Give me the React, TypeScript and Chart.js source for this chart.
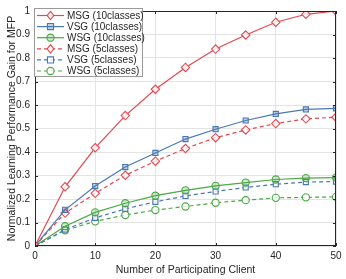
import React, { useEffect, useRef } from "react";
import { Chart, registerables } from "chart.js";

Chart.register(...registerables);

const clients = [0, 5, 10, 15, 20, 25, 30, 35, 40, 45, 50];
const msg10 = [0, 0.252, 0.418, 0.555, 0.667, 0.76, 0.838, 0.898, 0.952, 0.986, 1.0];
const vsg10 = [0, 0.154, 0.255, 0.336, 0.396, 0.455, 0.497, 0.534, 0.562, 0.581, 0.586];
const wsg10 = [0, 0.084, 0.143, 0.182, 0.214, 0.237, 0.256, 0.27, 0.283, 0.289, 0.291];
const msg5 = [0, 0.14, 0.224, 0.301, 0.361, 0.415, 0.461, 0.494, 0.521, 0.541, 0.548];
const vsg5 = [0, 0.07, 0.12, 0.158, 0.188, 0.213, 0.232, 0.249, 0.263, 0.272, 0.274];
const wsg5 = [0, 0.067, 0.105, 0.132, 0.153, 0.168, 0.184, 0.195, 0.205, 0.207, 0.209];

const seriesLabels = [
  "MSG (10classes)",
  "VSG (10classes)",
  "WSG (10classes)",
  "MSG (5classes)",
  "VSG (5classes)",
  "WSG (5classes)",
];
const xTitle = "Number of Participating Client";
const yTitle = "Normalized Learning Performance Gain for MFP";

const RED = "#e5474d";
const BLUE = "#4a78b3";
const GREEN = "#4ca846";
const TEXT = "#262626";
const FONT = "Liberation Sans, Arial, sans-serif";

function drawMarker(ctx: CanvasRenderingContext2D, style: string, x: number, y: number, r: number, stroke: string, fill: string) {
  ctx.save();
  ctx.beginPath();
  if (style === "rectRot") {
    ctx.moveTo(x, y - r);
    ctx.lineTo(x + r * 0.8, y);
    ctx.lineTo(x, y + r);
    ctx.lineTo(x - r * 0.8, y);
    ctx.closePath();
  } else if (style === "rect") {
    const s = r * 0.85;
    ctx.rect(x - s, y - s, 2 * s, 2 * s);
  } else {
    ctx.arc(x, y, r, 0, Math.PI * 2);
  }
  ctx.fillStyle = fill;
  ctx.fill();
  ctx.setLineDash([]);
  ctx.lineWidth = 1.1;
  ctx.strokeStyle = stroke;
  ctx.stroke();
  ctx.restore();
}

const boxPlugin = {
  id: "boxPlugin",
  afterDraw(chart: any) {
    const { ctx, chartArea } = chart;
    const { left, right, top, bottom } = chartArea;
    const xs = chart.scales.x;
    const ys = chart.scales.y;
    ctx.save();
    ctx.strokeStyle = TEXT;
    ctx.lineWidth = 1;
    ctx.setLineDash([]);
    ctx.strokeRect(left + 0.5, top + 0.5, right - left - 1, bottom - top - 1);
    ctx.beginPath();
    for (let v = 0; v <= 50; v += 10) {
      const px = Math.round(xs.getPixelForValue(v)) + 0.5;
      ctx.moveTo(px, bottom);
      ctx.lineTo(px, bottom - 3);
      ctx.moveTo(px, top);
      ctx.lineTo(px, top + 3);
    }
    for (let i = 0; i <= 10; i++) {
      const py = Math.round(ys.getPixelForValue(i / 10)) + 0.5;
      ctx.moveTo(left, py);
      ctx.lineTo(left + 3, py);
      ctx.moveTo(right, py);
      ctx.lineTo(right - 3, py);
    }
    ctx.stroke();

    // legend
    const bx = 34.5, by = 8.5, bw = 108, bh = 68;
    ctx.fillStyle = "#ffffff";
    ctx.fillRect(bx, by, bw, bh);
    ctx.strokeStyle = "#9a9a9a";
    ctx.strokeRect(bx, by, bw, bh);
    chart.data.datasets.forEach((ds: any, i: number) => {
      const y = 15.5 + i * 11.1;
      ctx.beginPath();
      ctx.setLineDash(ds.borderDash || []);
      ctx.strokeStyle = ds.borderColor;
      ctx.lineWidth = ds.borderWidth;
      ctx.moveTo(37, y);
      ctx.lineTo(64, y);
      ctx.stroke();
      drawMarker(ctx, ds.pointStyle, 50.5, y, ds.pointRadius, ds.borderColor, ds.pointBackgroundColor);
      ctx.fillStyle = TEXT;
      ctx.font = "10px " + FONT;
      ctx.textBaseline = "middle";
      ctx.textAlign = "left";
      ctx.fillText(ds.label, 67, y + 0.5);
    });
    ctx.restore();
  },
};

function mk(label: string, vals: number[], color: string, style: string, dashed: boolean, fill: string) {
  return {
    label,
    data: clients.map((c, i) => ({ x: c, y: vals[i] })),
    borderColor: color,
    backgroundColor: color,
    borderWidth: 1.2,
    borderDash: dashed ? [4, 3] : [],
    pointStyle: style,
    pointRadius: style === "rectRot" ? 4.2 : 3.6,
    pointBorderWidth: 1.1,
    pointBorderColor: color,
    pointBackgroundColor: fill,
    tension: 0,
  };
}

export default function App() {
  const ref = useRef<HTMLCanvasElement>(null);
  useEffect(() => {
    document.body.style.margin = "0";
    const chart = new Chart(ref.current!, {
      type: "line",
      data: {
        datasets: [
          mk(seriesLabels[0], msg10, RED, "rectRot", false, "rgba(255,255,255,0.8)"),
          mk(seriesLabels[1], vsg10, BLUE, "rect", false, "rgba(74,120,179,0.35)"),
          mk(seriesLabels[2], wsg10, GREEN, "circle", false, "rgba(76,168,70,0.25)"),
          mk(seriesLabels[3], msg5, RED, "rectRot", true, "rgba(255,255,255,0.8)"),
          mk(seriesLabels[4], vsg5, BLUE, "rect", true, "rgba(255,255,255,0.8)"),
          mk(seriesLabels[5], wsg5, GREEN, "circle", true, "rgba(255,255,255,0.8)"),
        ] as any,
      },
      options: {
        animation: false,
        responsive: false,
        maintainAspectRatio: false,
        layout: { padding: { top: 8, right: 10, left: 0, bottom: 0 } },
        plugins: { legend: { display: false }, tooltip: { enabled: false } },
        scales: {
          x: {
            type: "linear",
            min: 0,
            max: 50,
            ticks: { stepSize: 10, color: TEXT, font: { family: FONT, size: 10 }, padding: 4, maxRotation: 0 },
            grid: { color: "#e4e4e4", drawTicks: false },
            border: { display: false },
            title: { display: true, text: xTitle, color: TEXT, font: { family: FONT, size: 10.5 }, padding: { top: 0, bottom: 3 } },
            afterFit: (s: any) => { s.height = 33; },
          },
          y: {
            min: 0,
            max: 1,
            ticks: {
              stepSize: 0.1,
              color: TEXT,
              font: { family: FONT, size: 10 },
              padding: 5,
              callback: (v: any) => String(Math.round(Number(v) * 10) / 10),
            },
            grid: { color: "#e4e4e4", drawTicks: false },
            border: { display: false },
            title: { display: true, text: yTitle, color: TEXT, font: { family: FONT, size: 10.5 }, padding: { top: 6, bottom: 0 } },
            afterFit: (s: any) => { s.width = 35; },
          },
        },
      } as any,
      plugins: [boxPlugin],
    });
    return () => chart.destroy();
  }, []);
  return <canvas ref={ref} width={346} height={279} style={{ display: "block" }} />;
}
